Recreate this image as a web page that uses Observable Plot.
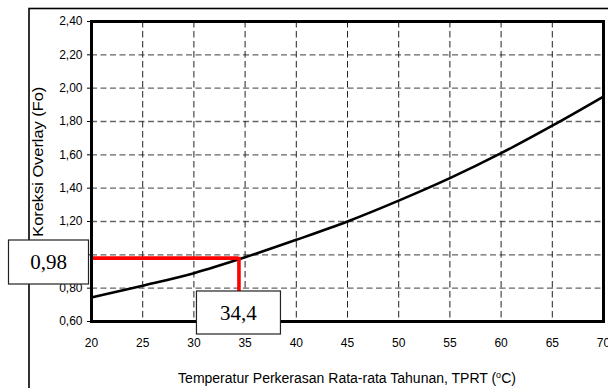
<!DOCTYPE html>
<html>
<head>
<meta charset="utf-8">
<script src="https://cdn.jsdelivr.net/npm/d3@7"></script>
<script src="https://cdn.jsdelivr.net/npm/@observablehq/plot@0.6"></script>
<style>
  html, body { margin: 0; padding: 0; background: #fff; }
  #chart svg { display: block; }
</style>
</head>
<body>
<div id="chart"></div>
<script>
// Overlay correction factor (Fo) against mean annual pavement temperature (TPRT)
const tprt = [20, 25, 30, 35, 40, 45, 50, 55, 60, 65, 70];
const fo = [0.745, 0.815, 0.89, 0.985, 1.09, 1.20, 1.325, 1.46, 1.61, 1.775, 1.95];

const xTicks = [20, 25, 30, 35, 40, 45, 50, 55, 60, 65, 70];
const yTicks = [0.6, 0.8, 1.0, 1.2, 1.4, 1.6, 1.8, 2.0, 2.2, 2.4];

// Worked example
const exampleT = 34.4;
const exampleFo = 0.98;
const exampleTLabel = "34,4";
const exampleFoLabel = "0,98";

const yTitle = "Koreksi Overlay (Fo)";
const xTitleParts = ["Temperatur Perkerasan Rata-rata Tahunan, TPRT (", "o", "C)"];

const rows = tprt.map((t, i) => ({t, f: fo[i]}));
const comma = d => d3.format(".2f")(d).replace(".", ",");

const plot = Plot.plot({
  width: 608,
  height: 388,
  marginLeft: 91,
  marginRight: 5,
  marginTop: 21,
  marginBottom: 67,
  style: {fontFamily: "'Liberation Sans', Arial, sans-serif", fontSize: "12px", color: "#000", background: "#fff"},
  x: {domain: [20, 70]},
  y: {domain: [0.6, 2.4]},
  marks: [
    Plot.gridY(yTicks, {stroke: "#666", strokeOpacity: 1, strokeWidth: 1.3, strokeDasharray: "6,3.5"}),
    Plot.gridX(xTicks, {stroke: "#222", strokeOpacity: 1, strokeWidth: 1, strokeDasharray: "6.5,3.5"}),
    Plot.axisY(yTicks, {tickFormat: comma, tickSize: 4, tickPadding: 5, label: null}),
    Plot.axisX(xTicks, {tickFormat: d => String(d), tickSize: 0, tickPadding: 17, label: null}),
    Plot.line(rows, {x: "t", y: "f", curve: "monotone-x", stroke: "#000", strokeWidth: 2.6}),
    Plot.ruleY([exampleFo], {x1: 20, x2: exampleT, stroke: "#ff0000", strokeWidth: 3.6}),
    Plot.ruleX([exampleT], {y1: 0.77, y2: exampleFo + 0.005, stroke: "#ff0000", strokeWidth: 3.6}),
    Plot.frame({stroke: "#000", strokeWidth: 3})
  ]
});

document.getElementById("chart").appendChild(plot);

const svg = d3.select(plot);
const sx = plot.scale("x");
const sy = plot.scale("y");

// thin outer border of the figure, behind everything
svg.insert("rect", ":first-child")
  .attr("x", 29).attr("y", 8.5).attr("width", 1000).attr("height", 1000)
  .attr("fill", "none").attr("stroke", "#000").attr("stroke-width", 1.6);
svg.insert("rect", ":first-child")
  .attr("width", 608).attr("height", 388).attr("fill", "#fff");

// axis titles
const xt = svg.append("text")
  .attr("x", 347).attr("y", 383)
  .attr("text-anchor", "middle")
  .attr("font-family", "'Liberation Sans', Arial, sans-serif")
  .attr("font-size", 14).attr("fill", "#000");
xt.append("tspan").text(xTitleParts[0]);
xt.append("tspan").attr("font-size", 9).attr("dy", -5).text(xTitleParts[1]);
xt.append("tspan").attr("dy", 5).text(xTitleParts[2]);

svg.append("text")
  .attr("transform", "translate(42.5,161.7) rotate(-90)")
  .attr("text-anchor", "middle")
  .attr("font-family", "'Liberation Sans', Arial, sans-serif")
  .attr("font-size", 14).attr("fill", "#000")
  .attr("textLength", 150).attr("lengthAdjust", "spacingAndGlyphs")
  .text(yTitle);

// value call-out boxes
function callout(x, y, w, h, label) {
  const g = svg.append("g");
  g.append("rect")
    .attr("x", x).attr("y", y)
    .attr("width", w).attr("height", h)
    .attr("fill", "#fff").attr("stroke", "#222").attr("stroke-width", 1.2);
  g.append("text")
    .attr("x", x + w / 2).attr("y", y + h / 2)
    .attr("dy", "0.35em")
    .attr("text-anchor", "middle")
    .attr("font-family", "'Liberation Serif', 'Times New Roman', serif")
    .attr("font-size", 21).attr("fill", "#000")
    .text(label);
}
// Fo box sits in the left margin, level with the red guide
callout(8.5, Math.max(240, sy.apply(exampleFo) - 22), 80, 44, exampleFoLabel);
// TPRT box sits under the vertical guide, over the x axis
callout(sx.apply(exampleT) - 42, 291, 84, 43, exampleTLabel);
</script>
</body>
</html>
